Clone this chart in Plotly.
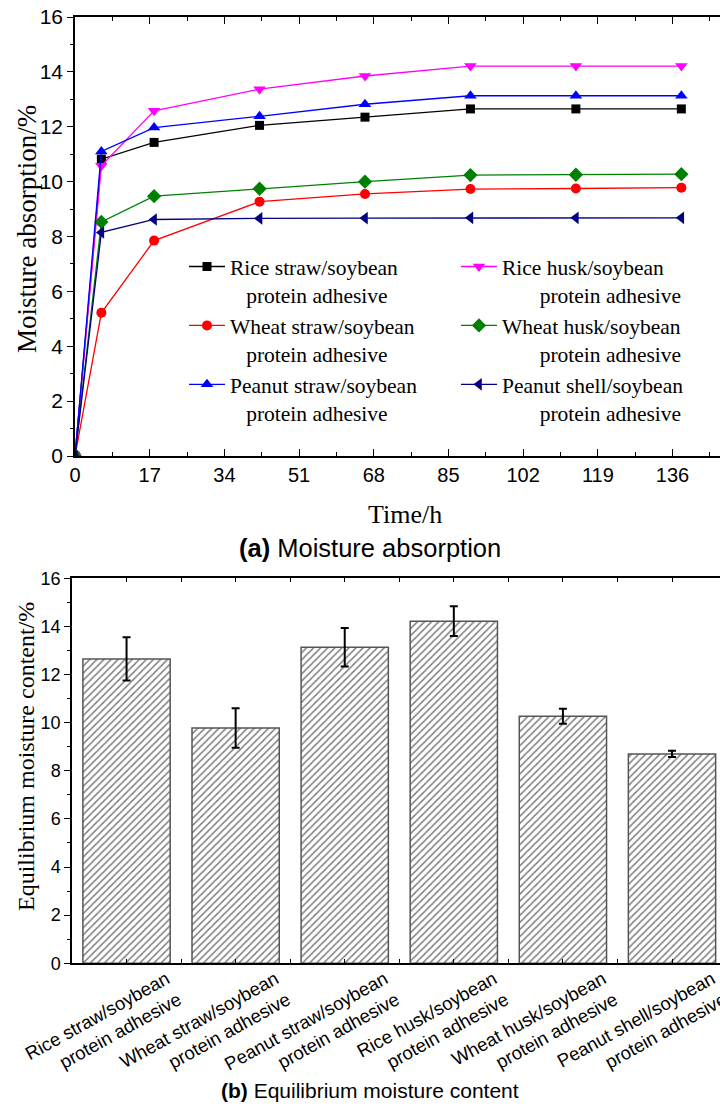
import plotly.graph_objects as go

# ---------------- data ----------------
time_h = [0, 6, 18, 42, 66, 90, 114, 138]
rice_straw = [0, 10.82, 11.43, 12.05, 12.35, 12.65, 12.65, 12.65]
rice_husk = [0, 10.58, 12.58, 13.37, 13.85, 14.21, 14.21, 14.21]
wheat_straw = [0, 5.22, 7.85, 9.27, 9.55, 9.73, 9.75, 9.78]
wheat_husk = [0, 8.53, 9.47, 9.74, 10.0, 10.24, 10.25, 10.27]
peanut_straw = [0, 11.1, 11.97, 12.38, 12.82, 13.13, 13.13, 13.13]
peanut_shell = [0, 8.15, 8.62, 8.66, 8.67, 8.68, 8.68, 8.68]

NB = "\u00a0"
series_names = [
    "Rice straw/soybean<br>" + NB * 3 + "protein adhesive",
    "Rice husk/soybean<br>" + NB * 7 + "protein adhesive",
    "Wheat straw/soybean<br>" + NB * 3 + "protein adhesive",
    "Wheat husk/soybean<br>" + NB * 7 + "protein adhesive",
    "Peanut straw/soybean<br>" + NB * 3 + "protein adhesive",
    "Peanut shell/soybean<br>" + NB * 7 + "protein adhesive",
]
series_values = [rice_straw, rice_husk, wheat_straw, wheat_husk, peanut_straw, peanut_shell]
series_colors = ["#000000", "#FF00FF", "#FF0000", "#008000", "#0000FF", "#000080"]
series_symbols = ["square", "triangle-down", "circle", "diamond", "triangle-up", "triangle-left"]
series_sizes = [9, 11, 10, 11, 11, 11]

bar_labels = [
    "Rice straw/soybean<br>protein adhesive",
    "Wheat straw/soybean<br>protein adhesive",
    "Peanut straw/soybean<br>protein adhesive",
    "Rice husk/soybean<br>protein adhesive",
    "Wheat husk/soybean<br>protein adhesive",
    "Peanut shell/soybean<br>protein adhesive",
]
bar_values = [12.65, 9.78, 13.13, 14.22, 10.27, 8.70]
bar_errors = [0.9, 0.82, 0.8, 0.62, 0.31, 0.13]
bar_pos = [0, 1, 2, 3, 4, 5]

W, H = 720, 1110
SERIF = "Liberation Serif, Times New Roman, serif"
SANS = "Liberation Sans, Arial, sans-serif"


def px(x):
    return x / W


def py(y):
    return 1 - y / H


fig = go.Figure()

for name, vals, col, sym, sz in zip(series_names, series_values, series_colors, series_symbols, series_sizes):
    fig.add_trace(go.Scatter(
        x=time_h, y=vals, name=name, mode="lines+markers",
        line=dict(color=col, width=1.3),
        marker=dict(symbol=sym, size=sz, color=col),
        xaxis="x", yaxis="y",
    ))

fig.add_trace(go.Bar(
    x=bar_pos, y=bar_values, width=0.8,
    marker=dict(color="white", line=dict(color="#555555", width=1.5),
                pattern=dict(shape="/", fgcolor="#000000", bgcolor="white", size=5, solidity=0.3)),
    error_y=dict(type="data", array=bar_errors, color="black", thickness=2, width=4),
    showlegend=False, xaxis="x2", yaxis="y2",
))

axis_common = dict(showgrid=False, zeroline=False, showline=True, linecolor="black",
                   linewidth=1.5, tickcolor="black", automargin=False)

fig.update_layout(
    width=W, height=H,
    margin=dict(l=0, r=0, t=0, b=0, autoexpand=False),
    paper_bgcolor="white", plot_bgcolor="white",
    xaxis=dict(domain=[px(75), 1.0], range=[0, 146.8], tick0=0, dtick=17,
               ticks="inside", ticklen=7, tickwidth=1.3, mirror="ticks",
               minor=dict(dtick=8.5, ticks="inside", ticklen=4, tickcolor="black"),
               tickfont=dict(family=SANS, size=20, color="black"), anchor="y",
               **axis_common),
    yaxis=dict(domain=[py(456), py(17)], range=[0, 16], dtick=2,
               ticks="outside", ticklen=6, tickwidth=1.3,
               minor=dict(dtick=1, ticks="outside", ticklen=3, tickcolor="black"),
               tickfont=dict(family=SANS, size=21, color="black"), anchor="x",
               **axis_common),
    xaxis2=dict(domain=[px(72), 1.0], range=[-0.5, 5.44], tickvals=bar_pos, ticktext=bar_labels,
                tickangle=-29, ticks="inside", ticklen=4, tickwidth=1.3, mirror="ticks",
                ticklabelshift=40, ticklabelstandoff=-4, ticklabeloverflow="allow",
                minor=dict(dtick=0.5, ticks="inside", ticklen=4, tickcolor="black"),
                tickfont=dict(family=SANS, size=18.5, color="black"), anchor="y2",
                **{**axis_common, "linewidth": 2}),
    yaxis2=dict(domain=[py(963.3), py(578.3)], range=[0, 16], dtick=2,
                ticks="outside", ticklen=6, tickwidth=1.3,
                minor=dict(dtick=1, ticks="outside", ticklen=3, tickcolor="black"),
                tickfont=dict(family=SANS, size=18, color="black"), anchor="x2",
                **axis_common),
    legend=dict(orientation="h", x=px(184), xanchor="left", y=py(246), yanchor="top",
                entrywidth=221, itemwidth=36, valign="top", bgcolor="rgba(0,0,0,0)",
                font=dict(family=SERIF, size=21.5, color="black"), tracegroupgap=0),
)

annos = [
    dict(text="Moisture absorption/%", x=px(27), y=py(229), textangle=-90,
         font=dict(family=SERIF, size=27, color="black")),
    dict(text="Time/h", x=px(405), y=py(515), font=dict(family=SERIF, size=26, color="black")),
    dict(text="<b>(a)</b> Moisture absorption", x=px(370), y=py(548),
         font=dict(family=SANS, size=25.5, color="black")),
    dict(text="Equilibrium moisture content/%", x=px(26), y=py(757), textangle=-90,
         font=dict(family=SERIF, size=24, color="black")),
    dict(text="<b>(b)</b> Equilibrium moisture content", x=px(370), y=py(1090),
         font=dict(family=SANS, size=21, color="black")),
]
for a in annos:
    fig.add_annotation(xref="paper", yref="paper", showarrow=False,
                       xanchor="center", yanchor="middle", **a)

fig.write_html("out.html", config={"displayModeBar": False},
               post_script="document.body.style.margin='0';document.body.style.overflow='hidden';")
